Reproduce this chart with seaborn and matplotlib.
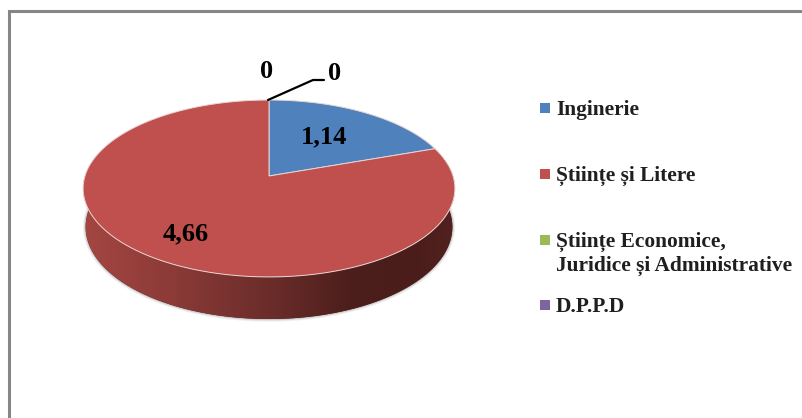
import numpy as np
import matplotlib

matplotlib.use('Agg')
import matplotlib.pyplot as plt
import seaborn as sns
from matplotlib.colors import LinearSegmentedColormap

# date
categories = ['Inginerie', 'Științe și Litere',
              'Științe Economice,\nJuridice și Administrative', 'D.P.P.D']
values = [1.14, 4.66, 0, 0]
value_labels = ['1,14', '4,66', '0', '0']
colors = sns.color_palette(['#4F81BD', '#C0504D', '#9BBB59', '#8064A2'])
wall_colors = [(0, '#A54642'), (0.25, '#8A3A37'), (0.5, '#6B2D2A'), (0.72, '#4C1E1C'),
               (0.9, '#4A1D1B'), (1, '#52211F')]
text_font = ['Liberation Serif', 'DejaVu Serif']


def project(theta, scale_x=184.0, scale_y=86.7, cx=269.0, cy=176.0):
    # cercul unitate vazut in perspectiva, coordonate in pixeli
    x, y = np.cos(theta), np.sin(theta)
    w = 1 + 0.141 * y
    return cx + scale_x * x / w, cy - scale_y * y / w


sns.set_theme(style='white')
plt.rcParams['font.family'] = text_font

fig = plt.figure(figsize=(8.03, 4.18), dpi=100)
ax = fig.add_axes([0, 0, 1, 1])
ax.axis('off')

# peretele lateral
t_front = np.radians(np.linspace(-188, 8, 300))
top_x, top_y = project(t_front)
bot_x, bot_y = project(t_front, scale_x=181.5, scale_y=90.2, cy=214.0)

# umbra fina sub pie
for lw, alpha in [(4, 0.08), (2.5, 0.12), (1.2, 0.2)]:
    ax.plot(bot_x, bot_y, color='#555555', lw=lw, alpha=alpha, zorder=1)

wall = ax.fill(np.r_[top_x, bot_x[::-1]], np.r_[top_y, bot_y[::-1]],
               color='#4A1D1B', lw=0, zorder=2)[0]
wall_cmap = LinearSegmentedColormap.from_list('wall', wall_colors)
grad = ax.imshow(np.linspace(0, 1, 256)[None, :], cmap=wall_cmap, aspect='auto',
                 extent=(83, 455, 330, 170), zorder=3)
grad.set_clip_path(wall)

# felii
fractions = np.cumsum([0] + values) / np.sum(values)
for i in range(len(values)):
    if values[i] == 0:
        continue
    t = np.pi / 2 - 2 * np.pi * np.linspace(fractions[i], fractions[i + 1], 200)
    x, y = project(t)
    cx, cy = project(np.array([0.0]), scale_x=0, scale_y=0)
    ax.fill(np.r_[cx, x], np.r_[cy, y], facecolor=colors[i], edgecolor='#E9D6D5',
            lw=0.7, zorder=4)

# etichete valori
ax.text(324, 143.5, value_labels[0], fontsize=19, fontweight='bold', ha='center',
        va='baseline', color='black', zorder=6)
ax.text(186, 240.5, value_labels[1], fontsize=19, fontweight='bold', ha='center',
        va='baseline', color='black', zorder=6)
ax.text(267, 78, value_labels[2], fontsize=19, fontweight='bold', ha='center',
        va='baseline', color='black', zorder=6)
ax.text(335, 80, value_labels[3], fontsize=19, fontweight='bold', ha='center',
        va='baseline', color='black', zorder=6)
ax.plot([268, 313, 324], [100, 80, 80], color='black', lw=1.6, zorder=5,
        solid_joinstyle='miter')

# legenda
legend_y = [108, 174, 239.5, 305]
legend_base = [115, 180.5, 246.5, 311.5]
for i, name in enumerate(categories):
    ax.scatter([545.5], [legend_y[i]], marker='s', s=42, color=colors[i], lw=0, zorder=5)
    ax.text(556, legend_base[i], name.split('\n')[0], fontsize=15.4, fontweight='bold',
            color='#1F1F1F', ha='left', va='baseline', zorder=6)
    if '\n' in name:
        ax.text(556, legend_base[i] + 24, name.split('\n')[1], fontsize=15.4,
                fontweight='bold', color='#1F1F1F', ha='left', va='baseline', zorder=6)

# chenar
ax.plot([9.5, 9.5, 803], [418, 11, 11], color='#868686', lw=2.2, zorder=7,
        solid_joinstyle='miter')

ax.set_xlim(0, 803)
ax.set_ylim(418, 0)
fig.savefig('out.png', dpi=100, facecolor='white')
plt.close(fig)
